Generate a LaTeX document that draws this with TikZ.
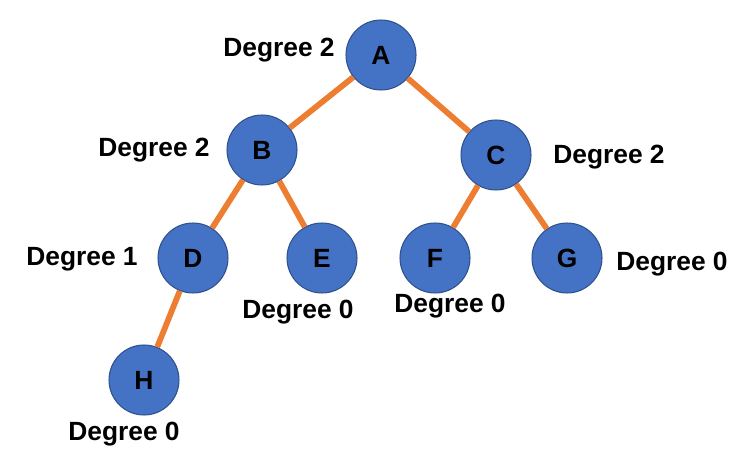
\documentclass[tikz,border=0pt]{standalone}
\usepackage{fontspec}
\setmainfont{Liberation Sans}
\usetikzlibrary{positioning}
\definecolor{nodeblue}{HTML}{4472C4}
\definecolor{nodeline}{HTML}{2F528F}
\definecolor{edgeorange}{HTML}{ED7D31}
\begin{document}
\begin{tikzpicture}[x=0.02cm, y=-0.02cm, every node/.style={font=\fontsize{15}{17}\selectfont\bfseries}]
            \useasboundingbox (0,0) rectangle (736,476);
            \tikzset{vertex/.style={circle, draw=nodeline, line width=0.6pt, fill=nodeblue, minimum size=1.4cm, inner sep=0pt},
                     edge/.style={edgeorange, line width=3.3pt}}
            \node[vertex] (A) at (381,55) {A};
            \node[vertex] (B) at (262,150) {B};
            \node[vertex] (C) at (496,155) {C};
            \node[vertex] (D) at (193,258) {D};
            \node[vertex] (E) at (322,258) {E};
            \node[vertex] (F) at (435,258) {F};
            \node[vertex] (G) at (567,258) {G};
            \node[vertex] (H) at (144,380) {H};
            
            \draw[edge] (A) -- (B);
            \draw[edge] (A) -- (C);
            \draw[edge] (B) -- (D);
            \draw[edge] (B) -- (E);
            \draw[edge] (C) -- (F);
            \draw[edge] (C) -- (G);
            \draw[edge] (D) -- (H);
            
            \node (degA) at (279,50) {Degree 2};
            \node (degB) at (154,150) {Degree 2};
            \node (degC) at (609,157) {Degree 2};
            \node (degD) at (82,259) {Degree 1};
            \node (degE) at (298,312) {Degree 0};
            \node (degF) at (450,306) {Degree 0};
            \node (degG) at (672,264) {Degree 0};
            \node (degH) at (124,434) {Degree 0};
        \end{tikzpicture}
\end{document}
